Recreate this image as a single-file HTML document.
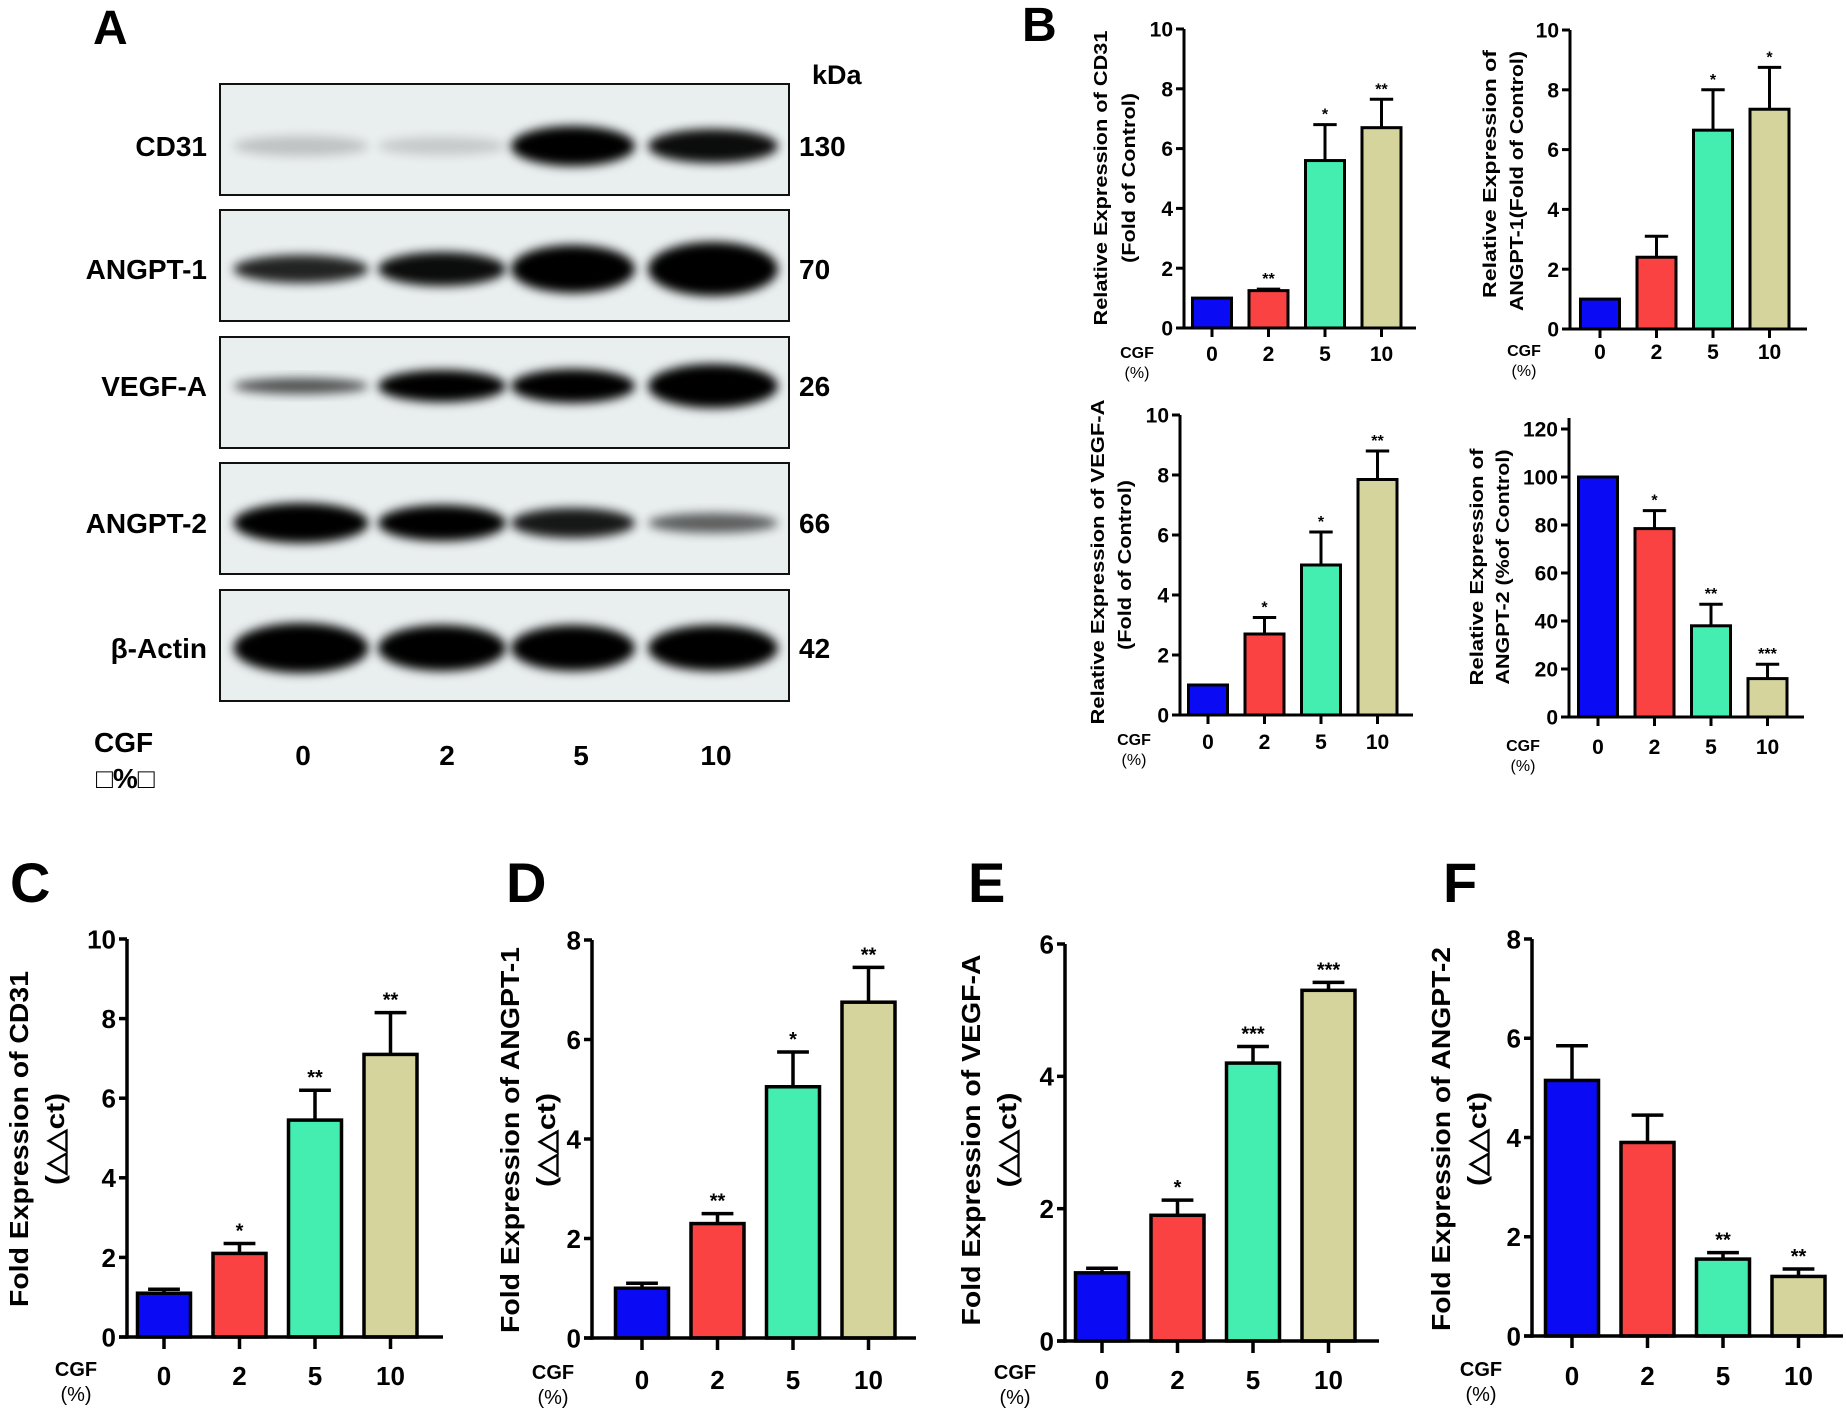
<!DOCTYPE html>
<html><head><meta charset="utf-8"><style>
html,body{margin:0;padding:0;background:#fff;overflow:hidden}
svg{display:block;font-family:"Liberation Sans",Arial,sans-serif;font-weight:bold}
</style></head><body>
<svg id="fig" width="1846" height="1414" viewBox="0 0 1846 1414">
<defs>
<filter id="blur" x="-20%" y="-50%" width="140%" height="200%"><feGaussianBlur stdDeviation="5"/></filter>
</defs>
</svg>
<script>
// ---------- data ----------
const categories = ["0","2","5","10"];
const b1Values = [1.0, 1.25, 5.6, 6.7];
const b1Errors = [0.0, 0.05, 1.2, 0.95];
const b1Stars = ["", "**", "*", "**"];
const b2Values = [1.0, 2.4, 6.65, 7.35];
const b2Errors = [0.0, 0.7, 1.35, 1.4];
const b2Stars = ["", "", "*", "*"];
const b3Values = [1.0, 2.7, 5.0, 7.85];
const b3Errors = [0.0, 0.55, 1.1, 0.95];
const b3Stars = ["", "*", "*", "**"];
const b4Values = [100, 78.5, 38, 16];
const b4Errors = [0, 7.5, 9, 6];
const b4Stars = ["", "*", "**", "***"];
const cValues = [1.1, 2.1, 5.45, 7.1];
const cErrors = [0.1, 0.25, 0.75, 1.05];
const cStars = ["", "*", "**", "**"];
const dValues = [1.0, 2.3, 5.05, 6.75];
const dErrors = [0.1, 0.2, 0.7, 0.7];
const dStars = ["", "**", "*", "**"];
const eValues = [1.03, 1.9, 4.2, 5.3];
const eErrors = [0.07, 0.23, 0.25, 0.12];
const eStars = ["", "*", "***", "***"];
const fValues = [5.15, 3.9, 1.55, 1.2];
const fErrors = [0.7, 0.55, 0.13, 0.15];
const fStars = ["", "", "**", "**"];
const barColors = ["#0a0af5", "#fb4242", "#44eeb0", "#d6d49d"];

const NS = "http://www.w3.org/2000/svg";
const svg = document.getElementById("fig");
function mk(tag, attrs, parent) {
  const el = document.createElementNS(NS, tag);
  for (const k in attrs) el.setAttribute(k, attrs[k]);
  (parent || svg).appendChild(el);
  return el;
}
function txt(s, attrs, parent) { const t = mk("text", attrs, parent); t.textContent = s; return t; }

// ---------- panel A: western blot ----------
const gA = mk("g", {});


const la = txt("A", {x: 93, y: 44, "font-size": 48}, gA);


const kda = txt("kDa", {x: 812, y: 84, "font-size": 27}, gA);


const rows = [
  {name:"CD31", kd:"130", top:84, by:146, i:[0.18,0.15,1,0.95], h:[20,18,40,34]},
  {name:"ANGPT-1", kd:"70", top:210, by:269, i:[0.85,0.95,1,1], h:[28,34,48,54]},
  {name:"VEGF-A", kd:"26", top:337, by:386, i:[0.65,1,1,1], h:[16,32,34,44]},
  {name:"ANGPT-2", kd:"66", top:463, by:523, i:[1,1,0.9,0.6], h:[40,36,30,20]},
  {name:"β-Actin", kd:"42", top:590, by:648, i:[1,1,1,1], h:[50,46,46,46]}
];
const rowH = 111;
const laneX = [301, 442, 573, 713];
const laneW = [135, 128, 124, 130];
rows.forEach((r, ri) => {
  const g = mk("g", {}, gA);
  
  
  mk("rect", {x:220, y:r.top, width:569, height:rowH, fill:"#e9eeee", stroke:"#111", "stroke-width":2}, g);
  r.i.forEach((v, li) => {
    const e = mk("ellipse", {cx:laneX[li], cy:r.by, rx:laneW[li]/2, ry:r.h[li]/2, fill:"#000", opacity:v, filter:"url(#blur)"}, g);
    
    
  });
  const l = txt(r.name, {x:207, y:r.by + 10, "font-size":28, "text-anchor":"end"}, g);
  
  
  const k = txt(r.kd, {x:799, y:r.by + 10, "font-size":28}, g);
  
  
});
const cgfA = txt("CGF", {x:94, y:752, "font-size":28}, gA);


const pctA = txt("□%□", {x:96, y:788, "font-size":28}, gA);


const laneLabX = [303, 447, 581, 716];
categories.forEach((c, i) => {
  const t = txt(c, {x:laneLabX[i], y:765, "font-size":28, "text-anchor":"middle"}, gA);
  
  
});

// ---------- bar chart builder ----------
function barChart(cfg) {
  const g = mk("g", {});
  
  
  const yS = v => cfg.y0 - (v / cfg.ymax) * (cfg.y0 - cfg.yTop);
  const xS = i => cfg.ax + cfg.off + i * cfg.step;
  const sw = cfg.sw;
  cfg.values.forEach((v, i) => {
    const top = yS(v), topE = yS(v + cfg.errors[i]);
    if (cfg.errors[i] > 0) {
      const el = mk("line", {x1:xS(i), x2:xS(i), y1:top, y2:topE, stroke:"#000", "stroke-width":sw}, g);
      
      
      const cap = mk("line", {x1:xS(i) - cfg.bw*0.3, x2:xS(i) + cfg.bw*0.3, y1:topE, y2:topE, stroke:"#000", "stroke-width":sw}, g);
      
      
    }
    const b = mk("rect", {x:xS(i) - cfg.bw/2, y:top, width:cfg.bw, height:cfg.y0 - top, fill:barColors[i], stroke:"#000", "stroke-width":sw}, g);
    
    
    if (cfg.stars[i]) {
      const s = txt(cfg.stars[i], {x:xS(i), y:topE - cfg.starGap, "font-size":cfg.starFs, "text-anchor":"middle"}, g);
      
      
    }
    const tk = mk("line", {x1:xS(i), x2:xS(i), y1:cfg.y0, y2:cfg.y0 + cfg.xTickLen, stroke:"#000", "stroke-width":sw}, g);
    
    
    const tl = txt(categories[i], {x:xS(i), y:cfg.xLabY, "font-size":cfg.tickFs, "text-anchor":"middle"}, g);
    
    
  });
  const ya = mk("line", {x1:cfg.ax, x2:cfg.ax, y1:cfg.y0 + sw/2, y2:yS(cfg.ymax) - (cfg.axExtra || 0), stroke:"#000", "stroke-width":sw}, g);
  
  
  const xa = mk("line", {x1:cfg.ax - cfg.yTickLen, x2:cfg.axEnd, y1:cfg.y0, y2:cfg.y0, stroke:"#000", "stroke-width":sw}, g);
  
  
  for (let v = 0; v <= cfg.ymax + 1e-9; v += cfg.tickStep) {
    const t = mk("line", {x1:cfg.ax - cfg.yTickLen, x2:cfg.ax, y1:yS(v), y2:yS(v), stroke:"#000", "stroke-width":sw}, g);
    
    
    const l = txt(String(v), {x:cfg.ax - cfg.yTickLen - 3, y:yS(v) + cfg.tickFs*0.36, "font-size":cfg.tickFs, "text-anchor":"end"}, g);
    
    
  }
  cfg.titles.forEach((t, k) => {
    const tt = txt(t.s, {x:0, y:0, "font-size":cfg.titleFs, "text-anchor":"middle", textLength:t.len, lengthAdjust:"spacingAndGlyphs",
      transform:`translate(${t.x},${t.cy}) rotate(-90)`, "dominant-baseline":"central"}, g);
    
    
  });
  const c1 = txt("CGF", {x:cfg.cgfX, y:cfg.cgfY, "font-size":cfg.cgfFs, "text-anchor":"middle"}, g);
  
  
  const c2 = txt("(%)", {x:cfg.cgfX, y:cfg.cgfY + cfg.cgfFs*1.25, "font-size":cfg.cgfFs, "text-anchor":"middle", "font-weight":"normal"}, g);
  
  
  if (cfg.letter) {
    const L = txt(cfg.letter.s, {x:cfg.letter.x, y:cfg.letter.y, "font-size":cfg.letter.fs}, g);
    
    
  }
}

const smallB = {bw:39, step:56.5, sw:3, starFs:16, starGap:5, tickFs:21, titleFs:18, cgfFs:16, xTickLen:9, yTickLen:8};
barChart(Object.assign({}, smallB, {name:"panel-b-cd31-chart", values:b1Values, errors:b1Errors, stars:b1Stars,
  ax:1184, off:28, y0:328, yTop:29, ymax:10, tickStep:2, axEnd:1416, xLabY:361,
  titles:[{s:"Relative Expression of CD31", x:1101, cy:178, len:295},{s:"(Fold of Control)", x:1129, cy:178, len:170}],
  cgfX:1137, cgfY:358, letter:{s:"B", x:1022, y:41, fs:48}}));
barChart(Object.assign({}, smallB, {name:"panel-b-angpt1-chart", values:b2Values, errors:b2Errors, stars:b2Stars,
  ax:1570, off:30, y0:329, yTop:30, ymax:10, tickStep:2, axEnd:1807, xLabY:359,
  titles:[{s:"Relative Expression of", x:1490, cy:174, len:248},{s:"ANGPT-1(Fold of Control)", x:1517, cy:181, len:260}],
  cgfX:1524, cgfY:356}));
barChart(Object.assign({}, smallB, {name:"panel-b-vegfa-chart", values:b3Values, errors:b3Errors, stars:b3Stars,
  ax:1180, off:28, y0:715, yTop:415, ymax:10, tickStep:2, axEnd:1413, xLabY:749,
  titles:[{s:"Relative Expression of VEGF-A", x:1098, cy:562, len:325},{s:"(Fold of Control)", x:1125, cy:565, len:170}],
  cgfX:1134, cgfY:745}));
barChart(Object.assign({}, smallB, {name:"panel-b-angpt2-chart", values:b4Values, errors:b4Errors, stars:b4Stars,
  ax:1569, off:29, y0:717, yTop:429, ymax:120, tickStep:20, axEnd:1804, xLabY:754, axExtra:11,
  titles:[{s:"Relative Expression of", x:1477, cy:567, len:237},{s:"ANGPT-2 (%of Control)", x:1503, cy:567, len:235}],
  cgfX:1523, cgfY:751}));

const big = {bw:53, step:75.5, sw:3.5, starFs:20, starGap:6, tickFs:26, titleFs:26, cgfFs:20, xTickLen:12, yTickLen:8};
barChart(Object.assign({}, big, {name:"panel-c-cd31-chart", values:cValues, errors:cErrors, stars:cStars,
  ax:127, off:37, y0:1337, yTop:939, ymax:10, tickStep:2, axEnd:443, xLabY:1385,
  titles:[{s:"Fold Expression of CD31", x:19, cy:1139, len:336},{s:"(△△ct)", x:55, cy:1139, len:92}],
  cgfX:76, cgfY:1376, letter:{s:"C", x:10, y:902, fs:56}}));
barChart(Object.assign({}, big, {name:"panel-d-angpt1-chart", values:dValues, errors:dErrors, stars:dStars,
  ax:592, off:50, y0:1338, yTop:940, ymax:8, tickStep:2, axEnd:916, xLabY:1389,
  titles:[{s:"Fold Expression of ANGPT-1", x:510, cy:1140, len:386},{s:"(△△ct)", x:546, cy:1140, len:94}],
  cgfX:553, cgfY:1379, letter:{s:"D", x:506, y:902, fs:56}}));
barChart(Object.assign({}, big, {name:"panel-e-vegfa-chart", values:eValues, errors:eErrors, stars:eStars,
  ax:1065, off:37, y0:1341, yTop:944, ymax:6, tickStep:2, axEnd:1379, xLabY:1389,
  titles:[{s:"Fold Expression of VEGF-A", x:971, cy:1140, len:371},{s:"(△△ct)", x:1007, cy:1140, len:95}],
  cgfX:1015, cgfY:1379, letter:{s:"E", x:968, y:902, fs:56}}));
barChart(Object.assign({}, big, {name:"panel-f-angpt2-chart", values:fValues, errors:fErrors, stars:fStars,
  ax:1532, off:40, y0:1336, yTop:939, ymax:8, tickStep:2, axEnd:1843, xLabY:1385,
  titles:[{s:"Fold Expression of ANGPT-2", x:1441, cy:1139, len:384},{s:"(△△ct)", x:1477, cy:1139, len:94}],
  cgfX:1481, cgfY:1376, letter:{s:"F", x:1443, y:902, fs:56}}));
</script>
</body></html>
